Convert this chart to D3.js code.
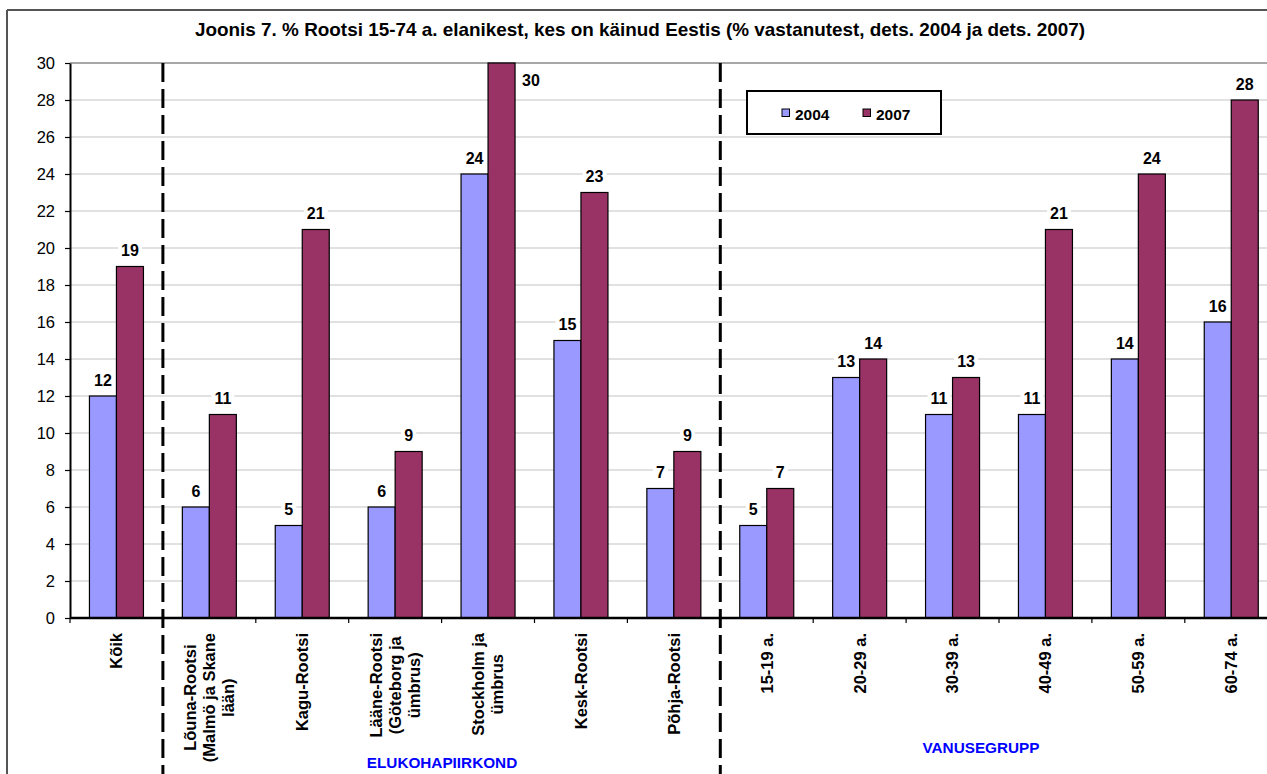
<!DOCTYPE html>
<html>
<head>
<meta charset="utf-8">
<script src="https://cdn.jsdelivr.net/npm/d3@7/dist/d3.min.js"></script>
<style>
  html, body { margin: 0; padding: 0; background: #fff; }
  svg { display: block; font-family: "Liberation Sans", Arial, sans-serif; }
</style>
</head>
<body>
<svg id="chart" width="1267" height="774"></svg>
<script>
const title = "Joonis 7. % Rootsi 15-74 a. elanikest, kes on käinud Eestis (% vastanutest, dets. 2004 ja dets. 2007)";
const categories = [
  "Kõik",
  "Lõuna-Rootsi\n(Malmö ja Skane\nlään)",
  "Kagu-Rootsi",
  "Lääne-Rootsi\n(Göteborg ja\nümbrus)",
  "Stockholm ja\nümbrus",
  "Kesk-Rootsi",
  "Põhja-Rootsi",
  "15-19 a.",
  "20-29 a.",
  "30-39 a.",
  "40-49 a.",
  "50-59 a.",
  "60-74 a."
];
const seriesNames = ["2004", "2007"];
const values2004 = [12, 6, 5, 6, 24, 15, 7, 5, 13, 11, 11, 14, 16];
const values2007 = [19, 11, 21, 9, 30, 23, 9, 7, 14, 13, 21, 24, 28];
const yTicks = [0, 2, 4, 6, 8, 10, 12, 14, 16, 18, 20, 22, 24, 26, 28, 30];
const groupLabels = ["ELUKOHAPIIRKOND", "VANUSEGRUPP"];
const colors = ["#9999ff", "#993366"];

(function () {
const svg = d3.select("#chart");
const W = 1267, H = 774;

// frame
svg.append("line").attr("x1", 7).attr("x2", W).attr("y1", 10).attr("y2", 10)
  .attr("stroke", "#555").attr("stroke-width", 2);
svg.append("line").attr("x1", 7).attr("x2", 7).attr("y1", 10).attr("y2", H)
  .attr("stroke", "#555").attr("stroke-width", 2);

// title
svg.append("text").attr("x", 640).attr("y", 36).attr("text-anchor", "middle")
  .attr("font-size", 18.2).attr("font-weight", "bold")
  .attr("textLength", 890).attr("lengthAdjust", "spacingAndGlyphs").text(title);

const pLeft = 70, pTop = 63, pBottom = 618;
const step = 92.9;
const pad = 1 - 54 / step;
const x = d3.scaleBand().domain(categories).range([pLeft, pLeft + step * categories.length])
  .paddingInner(pad).paddingOuter(pad / 2);
const xs = d3.scaleBand().domain(seriesNames).range([0, x.bandwidth()]);
const y = d3.scaleLinear().domain([0, 30]).range([pBottom, pTop]);

// gridlines
svg.append("g").selectAll("line").data(yTicks.filter(d => d > 0)).join("line")
  .attr("x1", pLeft).attr("x2", W).attr("y1", d => y(d)).attr("y2", d => y(d))
  .attr("stroke", d => d === 30 ? "#8a8a8a" : "#c4c4c4").attr("stroke-width", d => d === 30 ? 1.5 : 1.2);

// y axis
const yAxis = svg.append("g").attr("transform", `translate(${pLeft},0)`)
  .call(d3.axisLeft(y).tickValues(yTicks).tickSize(5).tickSizeOuter(0).tickPadding(10));
yAxis.select(".domain").attr("stroke", "#000").attr("stroke-width", 2);
yAxis.selectAll(".tick line").attr("stroke", "#000").attr("stroke-width", 1.2);
yAxis.selectAll(".tick text").attr("font-size", 16.5).attr("fill", "#000")
  .attr("font-family", "Liberation Sans, Arial, sans-serif");

// bars
const data = categories.map((c, i) => ({ c, vals: [values2004[i], values2007[i]] }));
const groups = svg.append("g").selectAll("g").data(data).join("g")
  .attr("transform", d => `translate(${x(d.c)},0)`);
groups.selectAll("rect").data(d => d.vals.map((v, j) => ({ v, s: seriesNames[j], j }))).join("rect")
  .attr("x", d => xs(d.s)).attr("width", xs.bandwidth())
  .attr("y", d => y(d.v)).attr("height", d => pBottom - y(d.v))
  .attr("fill", d => colors[d.j]).attr("stroke", "#000").attr("stroke-width", 1.2);

// x axis line & ticks
svg.append("line").attr("x1", pLeft).attr("x2", W).attr("y1", pBottom).attr("y2", pBottom)
  .attr("stroke", "#000").attr("stroke-width", 2.5);
const boundaries = categories.map(c => x(c) - x.step() * pad / 2);
svg.append("g").selectAll("line").data(boundaries).join("line")
  .attr("x1", d => d).attr("x2", d => d).attr("y1", pBottom).attr("y2", pBottom + 5)
  .attr("stroke", "#000").attr("stroke-width", 1.2);

// data labels
const lbl = svg.append("g");
data.forEach(d => {
  d.vals.forEach((v, j) => {
    const bx = x(d.c) + xs(seriesNames[j]);
    let tx, ty, anchor;
    if (y(v) - 26 < pTop) {
      tx = bx + xs.bandwidth() + 7; ty = y(v) + 23; anchor = "start";
    } else {
      tx = bx + xs.bandwidth() / 2; ty = y(v) - 10.5; anchor = "middle";
    }
    const t = lbl.append("text").attr("x", tx).attr("y", ty).attr("text-anchor", anchor)
      .attr("font-size", 16).attr("font-weight", "bold").text(v);
    const bb = t.node().getBBox();
    lbl.insert("rect", "text").attr("x", bb.x - 3).attr("y", bb.y).attr("width", bb.width + 6)
      .attr("height", bb.height).attr("fill", "#fff");
  });
});
lbl.selectAll("text").raise();

// category labels (rotated)
const catFont = 16.5, lineH = 19;
const cl = svg.append("g");
categories.forEach(c => {
  const lines = c.split("\n");
  const cx = x(c) + x.bandwidth() / 2;
  const n = lines.length;
  const tmp = cl.append("text").attr("font-size", catFont).attr("font-weight", "bold");
  let maxLen = 0;
  lines.forEach(l => { tmp.text(l); maxLen = Math.max(maxLen, tmp.node().getComputedTextLength()); });
  tmp.remove();
  const midY = 633 + maxLen / 2;
  lines.forEach((l, i) => {
    const off = (i - (n - 1) / 2) * lineH;
    const bx = cx + off + catFont * 0.36;
    cl.append("text").attr("transform", `translate(${bx},${midY}) rotate(-90)`)
      .attr("text-anchor", "middle").attr("font-size", catFont).attr("font-weight", "bold").text(l);
  });
});

// dashed separators
[1, 7].forEach(i => {
  const bx = boundaries[i];
  svg.append("line").attr("x1", bx).attr("x2", bx).attr("y1", pTop).attr("y2", H)
    .attr("stroke", "#000").attr("stroke-width", 3).attr("stroke-dasharray", "19,7");
});

// group labels
svg.append("text").attr("x", 442).attr("y", 768).attr("text-anchor", "middle")
  .attr("font-size", 15.3).attr("font-weight", "bold").attr("fill", "#0000ff").text(groupLabels[0]);
svg.append("text").attr("x", 981).attr("y", 753).attr("text-anchor", "middle")
  .attr("font-size", 15.3).attr("font-weight", "bold").attr("fill", "#0000ff").text(groupLabels[1]);

// legend
const lg = svg.append("g");
lg.append("rect").attr("x", 747).attr("y", 91).attr("width", 194).attr("height", 43)
  .attr("fill", "#fff").attr("stroke", "#000").attr("stroke-width", 2);
const legX = [782, 863];
seriesNames.forEach((s, j) => {
  lg.append("rect").attr("x", legX[j]).attr("y", 109).attr("width", 7.5).attr("height", 7.5)
    .attr("fill", colors[j]).attr("stroke", "#000").attr("stroke-width", 1);
  lg.append("text").attr("x", legX[j] + 13).attr("y", 120).attr("font-size", 15.5)
    .attr("font-weight", "bold").text(s);
});
})();
</script>
</body>
</html>
